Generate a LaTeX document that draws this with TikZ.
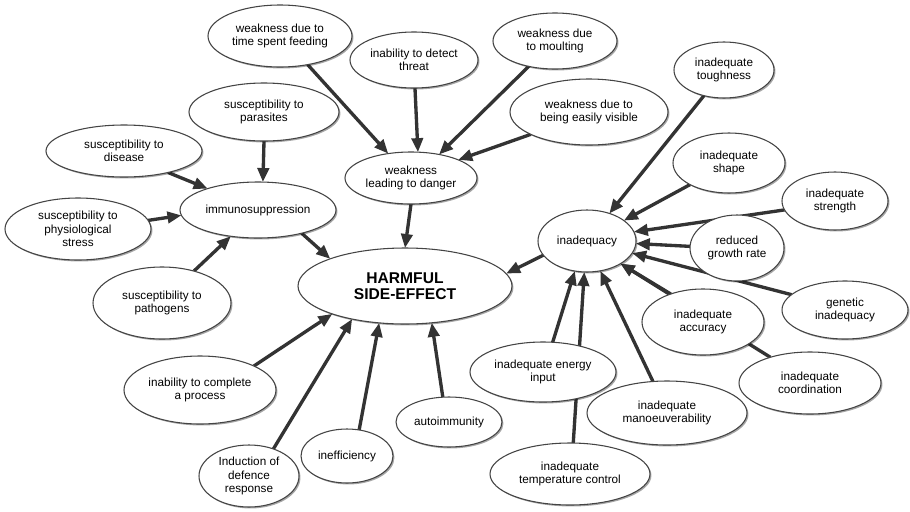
\documentclass[tikz,border=0pt]{standalone}
\usepackage{fontspec}
\setmainfont{Liberation Sans}
\usetikzlibrary{shapes.geometric,arrows.meta,shadows}
\pgfdeclarelayer{paper}
\pgfdeclarelayer{background}
\pgfsetlayers{paper,background,main}
\definecolor{edgecol}{HTML}{333333}
\definecolor{bordcol}{HTML}{444444}
\tikzset{
  bub/.style={ellipse, draw=bordcol, line width=0.8pt, fill=white, inner sep=0pt, outer sep=0pt,
    align=center, font=\fontsize{8.8}{10}\selectfont,
    drop shadow={shadow xshift=1.1pt, shadow yshift=-1.1pt, opacity=0.35, fill=black}},
  sz/.style 2 args={minimum width=#1*1.5pt, minimum height=#2*1.5pt},
  arr/.style={draw=edgecol, line width=2.5pt, -{Triangle[length=10.5pt,width=8.5pt]}},
}
\begin{document}
\begin{tikzpicture}[x=0.75pt,y=-0.75pt]
\useasboundingbox (0,0) rectangle (910,511);
\begin{pgfonlayer}{paper}
\fill[white] (0,0) rectangle (910,511);
\end{pgfonlayer}
\node[bub,sz={72}{31}] (feed) at (280,36) {weakness due to\\time spent feeding};
\node[bub,sz={64}{28}] (threat) at (414,60) {inability to detect\\threat};
\node[bub,sz={62}{28}] (moult) at (555,41) {weakness due\\to moulting};
\node[bub,sz={79}{33}] (visible) at (589,112) {weakness due to\\being easily visible};
\node[bub,sz={50}{28}] (tough) at (724,70) {inadequate\\toughness};
\node[bub,sz={56}{30}] (shape) at (729,163) {inadequate\\shape};
\node[bub,sz={53}{29}] (strength) at (835,201) {inadequate\\strength};
\node[bub,sz={47}{33}] (growth) at (737,248) {reduced\\growth rate};
\node[bub,sz={49}{31}] (inadeq) at (587,241) {inadequacy};
\node[bub,sz={66}{26}] (wld) at (411,178) {weakness\\leading to danger};
\node[bub,sz={75}{29}] (paras) at (264,112) {susceptibility to\\parasites};
\node[bub,sz={78}{26}] (disease) at (124,151) {susceptibility to\\disease};
\node[bub,sz={78}{28}] (immuno) at (258,210) {immunosuppression};
\node[bub,sz={73}{31}] (physio) at (78,229) {susceptibility to\\physiological\\stress};
\node[bub,sz={69}{36}] (patho) at (162,303) {susceptibility to\\pathogens};
\node[bub,sz={107}{38},font=\bfseries\fontsize{11.7}{12.4}\selectfont] (harm) at (405,286) {HARMFUL\\SIDE-EFFECT};
\node[bub,sz={76}{34}] (complete) at (200,390) {inability to complete\\a process};
\node[bub,sz={50}{31}] (induct) at (249,476) {Induction of\\defence\\response};
\node[bub,sz={46}{27}] (ineff) at (347,456) {inefficiency};
\node[bub,sz={53}{25}] (auto) at (449,422) {autoimmunity};
\node[bub,sz={73}{30}] (energy) at (543,372) {inadequate energy\\input};
\node[bub,sz={80}{31}] (temp) at (570,474) {inadequate\\temperature control};
\node[bub,sz={80}{32}] (manoeuv) at (667,413) {inadequate\\manoeuverability};
\node[bub,sz={61}{33}] (accur) at (703,322) {inadequate\\accuracy};
\node[bub,sz={63}{29}] (genetic) at (845,310) {genetic\\inadequacy};
\node[bub,sz={71}{31}] (coord) at (810,383) {inadequate\\coordination};
\begin{pgfonlayer}{background}
\draw[arr] (feed.-46) -- (wld.133);
\draw[arr] (threat.-88) -- (wld.75);
\draw[arr] (moult.-136) -- (wld.40);
\draw[arr] (visible.-159) -- (wld.21);
\draw[arr] (wld.-90) -- (harm.90);
\draw[arr] (paras.-90) -- (immuno.80);
\draw[arr] (disease.-26) -- (immuno.157);
\draw[arr] (physio.7) -- (immuno.184);
\draw[arr] (patho.45) -- (immuno.224);
\draw[arr] (immuno.-28) -- (harm.160);
\draw[arr] (complete.24) -- (harm.201);
\draw[arr] (induct.48) -- (harm.212);
\draw[arr] (ineff.65) -- (harm.235);
\draw[arr] (auto.104) -- (harm.306);
\draw[arr] (inadeq.198) -- (harm.7);
\draw[arr] (tough.232) -- (inadeq.51);
\draw[arr] (shape.209) -- (inadeq.29);
\draw[arr] (strength.190) -- (inadeq.11);
\draw[arr] (growth.178) -- (inadeq.-3);
\draw[arr] (genetic.164) -- (inadeq.-15);
\draw[arr] (coord.147) -- (inadeq.-34);
\draw[arr] (accur.139) -- (inadeq.-34);
\draw[arr] (energy.72) -- (inadeq.248);
\draw[arr] (temp.84) -- (inadeq.265);
\draw[arr] (manoeuv.114) -- (inadeq.-66);
\end{pgfonlayer}
\end{tikzpicture}
\end{document}
